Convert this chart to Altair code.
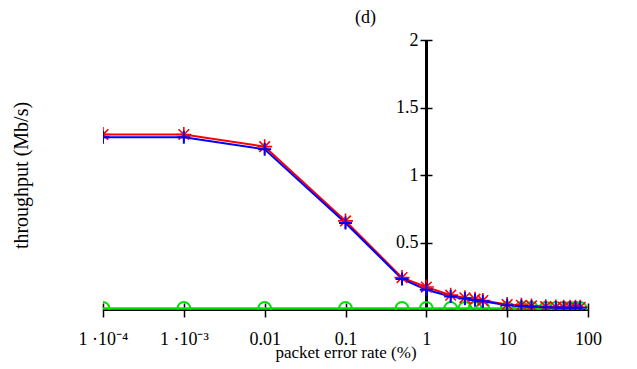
import altair as alt
import pandas as pd

# ---- data ----
per = [0.0001, 0.001, 0.01, 0.1, 0.5, 1, 2, 3, 4, 5, 10, 15, 20, 30, 40, 50, 60, 70, 80]
red = [1.30, 1.30, 1.21, 0.66, 0.24, 0.17, 0.11, 0.09, 0.08, 0.07, 0.04, 0.035, 0.03,
       0.025, 0.022, 0.02, 0.02, 0.02, 0.02]
blue = [1.28, 1.28, 1.19, 0.645, 0.23, 0.15, 0.10, 0.085, 0.075, 0.065, 0.035, 0.03, 0.025,
        0.02, 0.018, 0.017, 0.017, 0.017, 0.017]
green = [0.012, 0.012, 0.012, 0.012, 0.012, 0.012, 0.012, 0.012, 0.012, 0.012, 0.012,
         0.012, 0.012, 0.012, 0.012, 0.012, 0.012, 0.012, 0.012]

x_ticks = [0.0001, 0.001, 0.01, 0.1, 1, 10, 100]
x_tick_labels = ["1 ·10⁻⁴", "1 ·10⁻³", "0.01", "0.1", "1", "10", "100"]
y_ticks = [0.5, 1, 1.5, 2]

FONT = "Liberation Serif"

rows = []
for name, vals in (("red", red), ("blue", blue), ("green", green)):
    for p, v in zip(per, vals):
        rows.append({"per": p, "val": v, "series": name})
df = pd.DataFrame(rows)

expr = ""
for v, lab in zip(x_ticks, x_tick_labels):
    expr += f"abs(log(datum.value) - log({v})) < 0.01 ? '{lab}' : "
expr += "''"

x_axis = alt.Axis(
    values=x_ticks, labelExpr=expr, offset=-7, tickSize=14, domain=False, grid=False,
    tickColor="black", tickWidth=1.5, labelColor="black", labelFont=FONT,
    labelFontSize=18, labelPadding=13, labelFlush=False, labelOverlap=False,
    title="packet error rate (%)", titleFont=FONT, titleFontSize=17,
    titleFontWeight="normal", titleColor="black", titlePadding=-4,
)
y_axis = alt.Axis(
    values=y_ticks, format="~g", offset=-329, tickSize=12, domain=False, grid=False,
    tickColor="black", tickWidth=1.5, labelColor="black", labelFont=FONT,
    labelFontSize=18, labelPadding=2,
    title="throughput (Mb/s)", titleFont=FONT, titleFontSize=20,
    titleFontWeight="normal", titleColor="black", titleX=-405,
    titleBaseline="alphabetic",
)
xs = alt.Scale(type="log", domain=[0.0001, 100])
ys = alt.Scale(domain=[0, 2])

X = alt.X("per:Q", scale=xs, axis=x_axis)
Y = alt.Y("val:Q", scale=ys, axis=y_axis)

base = alt.Chart(df)

xline = base.mark_rule(color="black", strokeWidth=1.5).encode(
    y=alt.YDatum(0, scale=ys, axis=y_axis))
yline = base.mark_rule(color="black", strokeWidth=1.5).encode(
    x=alt.XDatum(1, scale=xs, axis=x_axis))

def sel(name):
    return base.transform_filter(alt.datum.series == name)

GREEN = "#00e000"
g_line = sel("green").mark_line(color=GREEN, strokeWidth=2.5, clip=True).encode(x=X, y=Y)
g_pts = sel("green").mark_point(shape="circle", filled=False, color=GREEN, size=160,
                                strokeWidth=2, clip=True, opacity=1).encode(x=X, y=Y)
r_line = sel("red").mark_line(color="#ff0000", strokeWidth=2, clip=True).encode(x=X, y=Y)
b_line = sel("blue").mark_line(color="#0000ff", strokeWidth=2, clip=True).encode(x=X, y=Y)
ast = "M-0.707,-0.707L0.707,0.707M-0.707,0.707L0.707,-0.707M0,-1L0,1M-1,0L1,0"
plus = "M-1,0L1,0M0,-1L0,1"
r_pts = sel("red").mark_point(shape=ast, filled=False, color="#ff0000", size=225,
                              strokeWidth=1.6, clip=True, opacity=1).encode(x=X, y=Y)
b_pts = sel("blue").mark_point(shape=plus, filled=False, color="#0000ff", size=169,
                               strokeWidth=2, clip=True, opacity=1).encode(x=X, y=Y)

chart = alt.layer(xline, yline, g_line, g_pts, r_line, b_line, r_pts, b_pts).properties(
    width=485, height=270,
    title=alt.TitleParams("(d)", font=FONT, fontSize=18, fontWeight="normal",
                          color="black", dx=20, offset=4),
    autosize=alt.AutoSizeParams(type="none"),
    padding={"left": 95, "top": 32, "right": 30, "bottom": 52},
).configure_view(stroke=None)

chart.save("out.html", embed_options={"renderer": "svg", "actions": False})
